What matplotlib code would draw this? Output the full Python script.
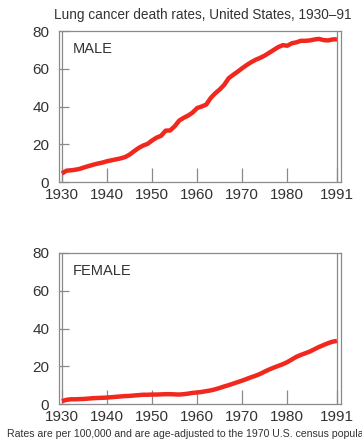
import matplotlib
matplotlib.use("Agg")
import matplotlib.pyplot as plt

years = list(range(1930, 1992))
male = [4.5, 6.0, 6.2, 6.5, 7.0, 7.8, 8.5, 9.2, 9.8, 10.3,
        11.0, 11.5, 12.0, 12.5, 13.2, 14.5, 16.3, 18.0, 19.3, 20.2,
        22.0, 23.5, 24.5, 27.2, 27.3, 29.5, 32.5, 34.0, 35.2, 36.8,
        39.2, 40.0, 41.0, 44.5, 47.0, 49.0, 51.5, 55.0, 56.8, 58.5,
        60.3, 62.0, 63.5, 64.8, 65.8, 67.0, 68.5, 70.0, 71.5, 72.5,
        72.2, 73.5, 74.0, 74.8, 74.8, 75.0, 75.5, 75.8, 75.2, 75.0,
        75.5, 75.6]
female = [1.5, 2.2, 2.5, 2.5, 2.6, 2.7, 2.9, 3.1, 3.2, 3.3,
          3.4, 3.6, 3.8, 4.0, 4.2, 4.3, 4.5, 4.7, 4.9, 4.9,
          5.0, 5.0, 5.1, 5.2, 5.2, 5.1, 5.0, 5.2, 5.5, 5.9,
          6.1, 6.4, 6.8, 7.2, 7.8, 8.5, 9.3, 10.0, 10.8, 11.6,
          12.4, 13.3, 14.2, 15.0, 16.0, 17.2, 18.3, 19.3, 20.2, 21.1,
          22.2, 23.6, 25.0, 26.0, 26.9, 27.8, 29.0, 30.2, 31.2, 32.2,
          33.0, 33.4]
xticks = [1930, 1940, 1950, 1960, 1970, 1980, 1991]
yticks = [0, 20, 40, 60, 80]
title = "Lung cancer death rates, United States, 1930\u201391"
panel_labels = ["MALE", "FEMALE"]
footer = "Rates are per 100,000 and are age-adjusted to the 1970 U.S. census population."

plt.rcParams['font.family'] = ['Liberation Sans', 'DejaVu Sans']

W, H = 362, 443
fig = plt.figure(figsize=(W / 100, H / 100), dpi=100)

def ax_rect(l, t, r, b):
    return [l / W, 1 - b / H, (r - l) / W, (b - t) / H]

frame_col = "#8a8a8a"
text_col = "#333333"
red = "#f0281e"

rects = [ax_rect(59, 31, 341, 182), ax_rect(59, 253, 341, 404)]
for rect, series, lab in zip(rects, [male, female], panel_labels):
    ax = fig.add_axes(rect)
    ax.plot(years, series, color=red, lw=3.2, solid_capstyle='butt', zorder=3)
    ax.set_xlim(1929.35, 1991.9)
    ax.set_ylim(0, 80)
    ax.axvline(1930, color=frame_col, lw=0.9, zorder=2)
    ax.axvline(1991, color=frame_col, lw=0.9, zorder=2)
    ax.set_xticks(xticks)
    ax.set_yticks(yticks)
    ax.tick_params(axis='x', direction='in', length=10, width=0.9, color=frame_col,
                   labelsize=11, labelcolor=text_col, pad=4.5)
    ax.tick_params(axis='y', direction='in', length=7, width=0.9, color=frame_col,
                   labelsize=11, labelcolor=text_col, pad=7)
    for s in ax.spines.values():
        s.set_color(frame_col)
        s.set_linewidth(0.9)
    ax.text(0.05, 0.93, lab, transform=ax.transAxes, fontsize=10.5,
            color=text_col, va='top', ha='left')

fig.text(54 / W, 1 - 15 / H, title, fontsize=9.8, color=text_col, ha='left', va='center')
fig.text(7 / W, 1 - 434 / H, footer, fontsize=7.55, color=text_col, ha='left', va='center')

fig.savefig("out.png", dpi=100)
